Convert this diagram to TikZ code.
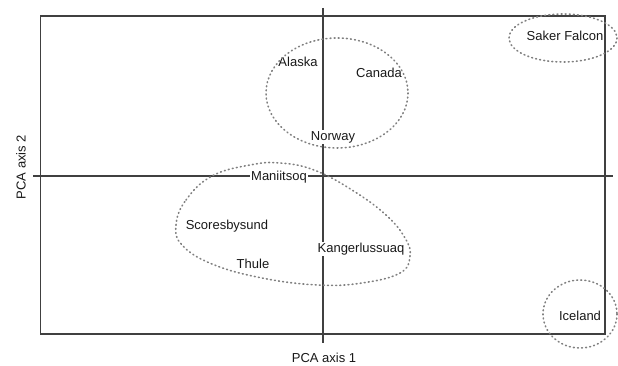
\documentclass[tikz,border=0pt]{standalone}
\usepackage{fontspec}
\setmainfont{Liberation Sans}
\usetikzlibrary{calc}

\begin{document}
\begin{tikzpicture}[x=1pt,y=-1pt,
		frame/.style={draw=black!75, line width=1.3pt},
		group/.style={draw=black!50, line width=1.6pt, line cap=round, dash pattern=on 0.9pt off 3.2pt},
		site/.style={fill=white, inner sep=1pt, text=black!90, font=\fontsize{13}{15}\selectfont}]
				%Size of the picture
				\useasboundingbox (0,0) rectangle (618,366);
				%Outer frame
				\coordinate (boxTL) at (40.5,16);
				\coordinate (boxBR) at (605,334);
				\draw [frame] (boxTL) rectangle (boxBR);
				%Axes through the origin
				\coordinate (axLeft) at (33,176);
				\coordinate (axRight) at (613,176);
				\coordinate (axTop) at (323,8);
				\coordinate (axBottom) at (323,343);
				\draw [frame] (axLeft) -- (axRight);
				\draw [frame] (axTop) -- (axBottom);
				%Axis labels
				\node [site] (xlab) at (324,358) {PCA axis 1};
				\node [site, rotate=90] (ylab) at (21,167) {PCA axis 2};
				%Sites
				\node [site] (alaska) at (298,62) {Alaska};
				\node [site] (canada) at (379,73) {Canada};
				\node [site] (norway) at (333,137) {Norway};
				\node [site] (maniitsoq) at (279,177) {Maniitsoq};
				\node [site] (scoresby) at (227,226) {Scoresbysund};
				\node [site] (thule) at (253,264) {Thule};
				\node [site] (kanger) at (361,249) {Kangerlussuaq};
				\node [site] (saker) at (565,36) {Saker Falcon};
				\node [site] (iceland) at (580,316) {Iceland};
				%Groups
				\draw [group] (337,93) ellipse [x radius=71, y radius=55];
				\draw [group] plot [smooth cycle, tension=0.7] coordinates {
					(176,225) (186,200) (212,176) (250,165) (280,163) (314,170)
					(352,190) (386,215) (405,238) (410,256) (400,273) (362,283)
					(318,285) (262,278) (212,264) (182,245)};
				\draw [group] (563,38) ellipse [x radius=54, y radius=24];
				\draw [group] (580,314) ellipse [x radius=37, y radius=34];
\end{tikzpicture}
\end{document}
